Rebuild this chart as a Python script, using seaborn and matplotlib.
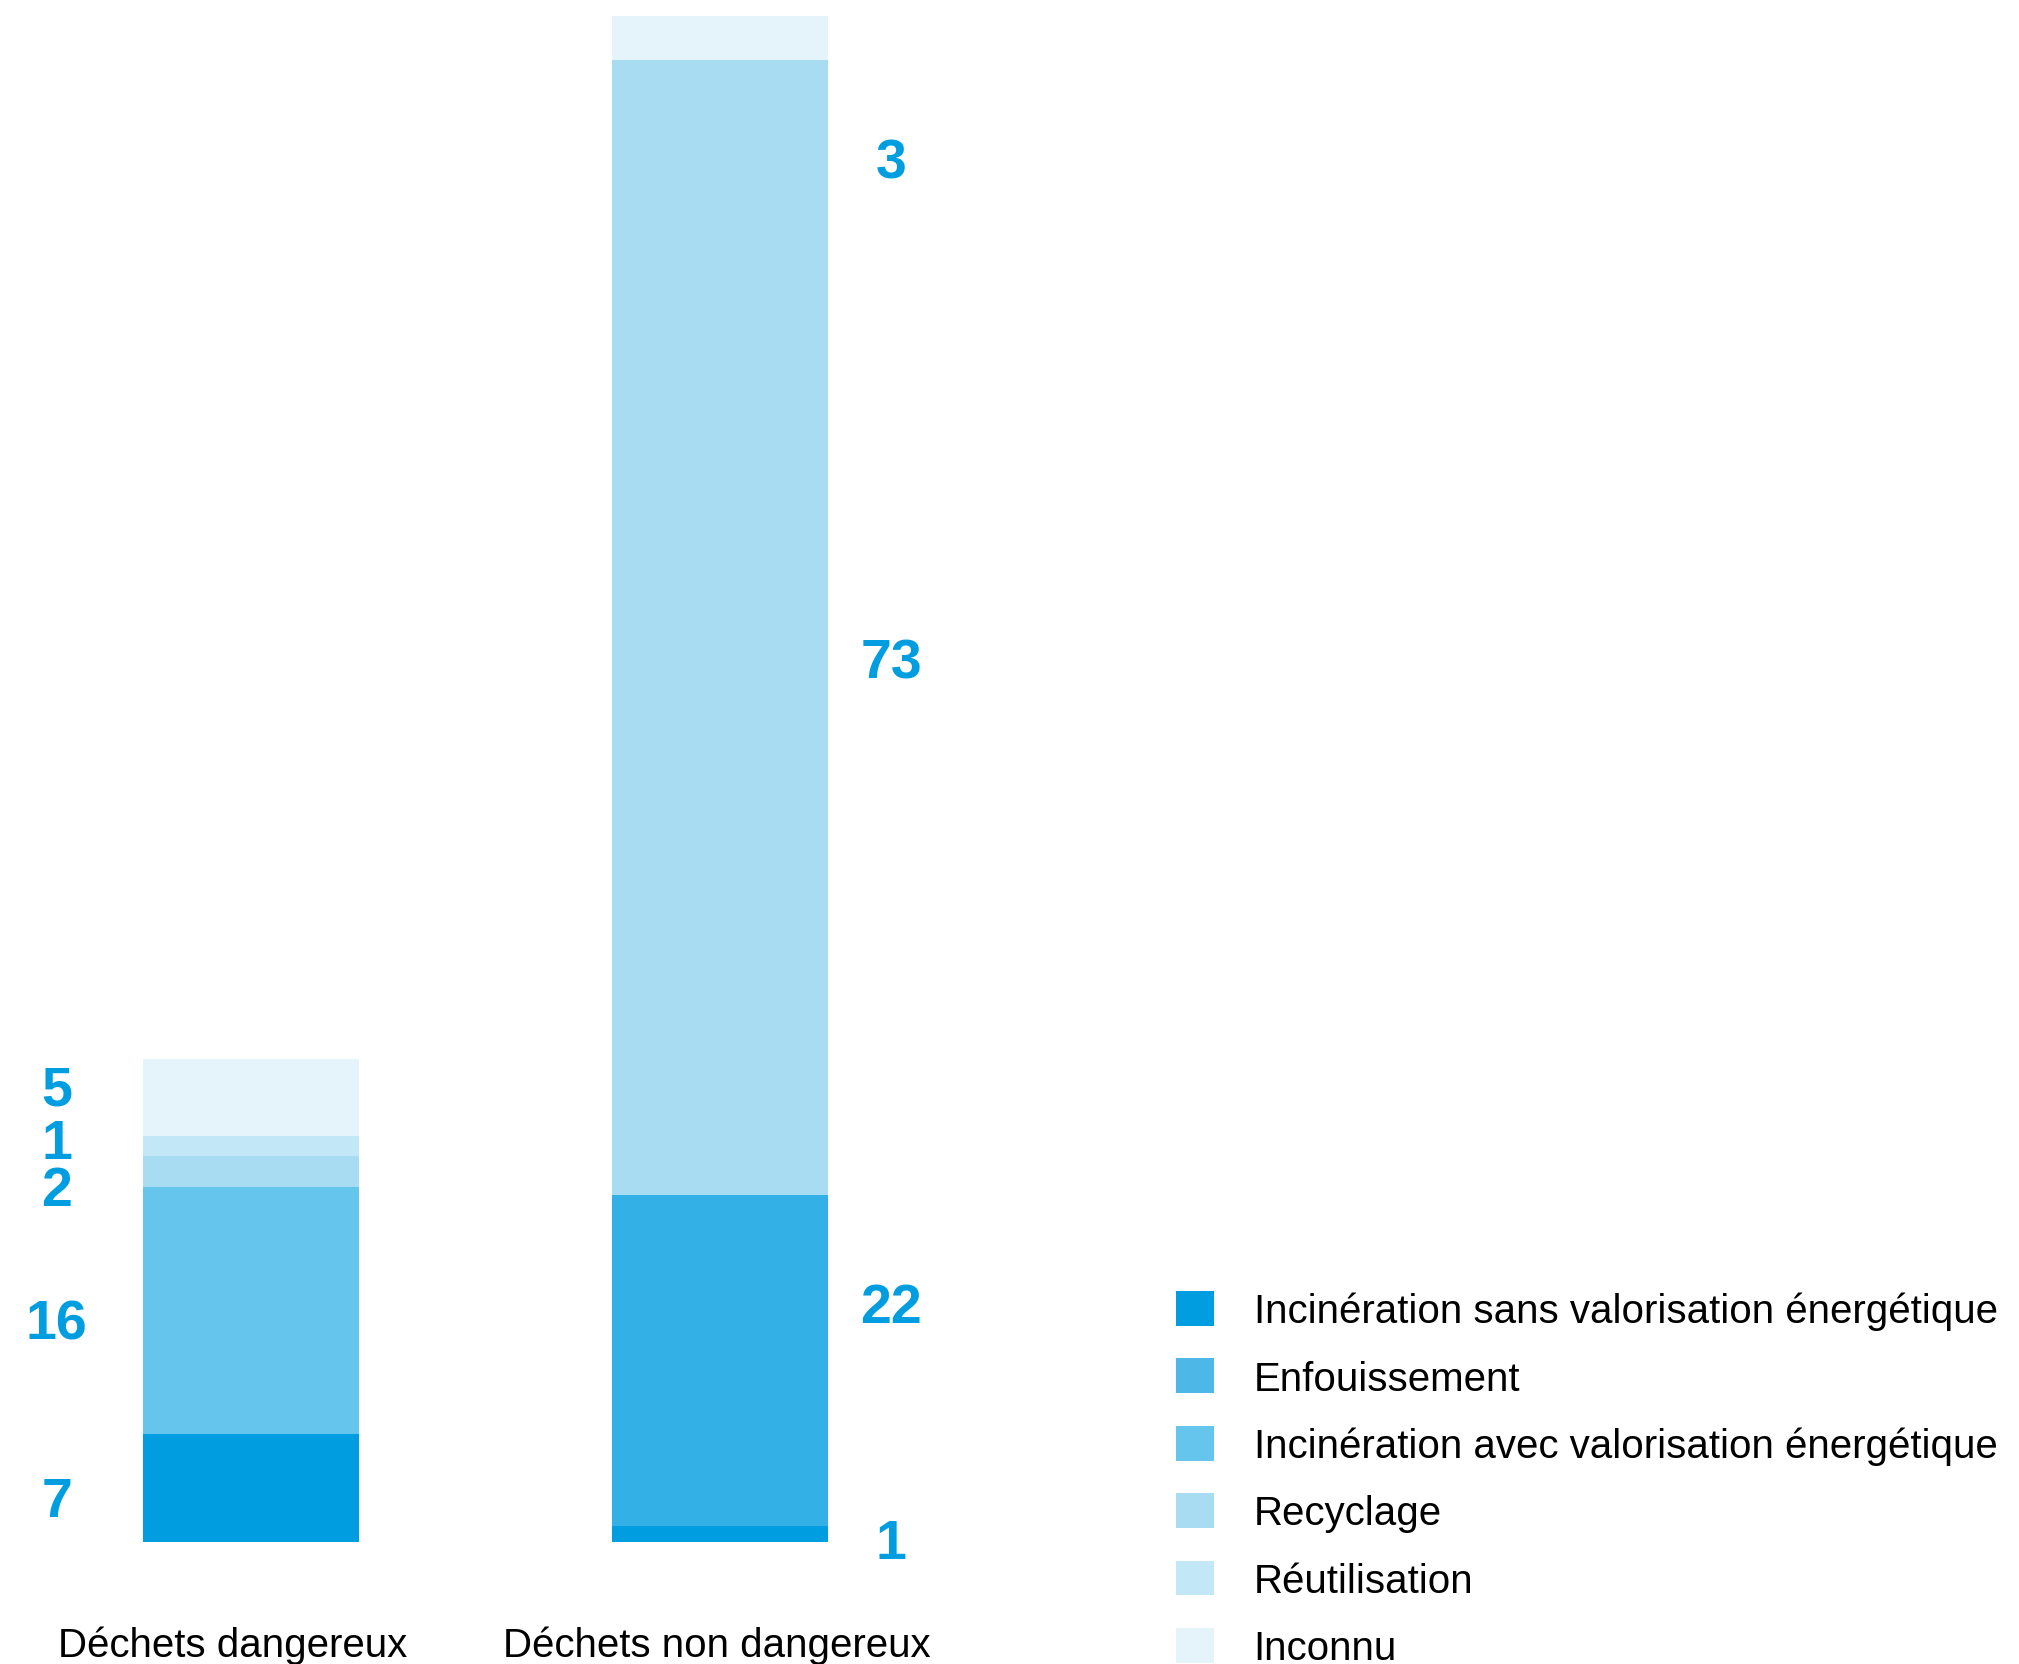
import matplotlib
matplotlib.use("Agg")
import matplotlib.pyplot as plt
import seaborn as sns
import numpy as np
from matplotlib.patches import Patch

# ---- data ----
categories = ["Déchets dangereux", "Déchets non dangereux"]
series_names = [
    "Incinération sans valorisation énergétique",
    "Enfouissement",
    "Incinération avec valorisation énergétique",
    "Recyclage",
    "Réutilisation",
    "Inconnu",
]
incineration_sans = [7.0, 1.0]
enfouissement = [0.0, 21.5]
incineration_avec = [16.0, 0.0]
recyclage = [2.0, 73.6]
reutilisation = [1.3, 0.0]
inconnu = [5.0, 2.8]
series_values = [incineration_sans, enfouissement, incineration_avec,
                 recyclage, reutilisation, inconnu]
colors = ["#009EE0", "#33B0E5", "#66C5EC", "#A7DCF3", "#C2E7F7", "#E5F4FB"]
legend_colors = ["#009EE0", "#4DB8E8", "#66C5EC", "#A7DCF3", "#C2E7F7", "#E5F4FB"]

# value labels (text, label y position in data units)
labels_dangereux = ["7", "16", "2", "1", "5"]
labels_dangereux_y = [1.65, 13.15, 21.85, 24.85, 28.35]
labels_non = ["1", "22", "73", "3"]
labels_non_y = [-1.05, 14.25, 56.05, 88.45]

# ---- figure ----
sns.set_theme(style="white")
plt.rcParams["font.family"] = ["Liberation Sans", "DejaVu Sans"]
plt.rcParams["text.color"] = "#000000"

W, H = 2019, 1665
fig = plt.figure(figsize=(W / 100, H / 100), dpi=100)

px_per_cat = 469.0
x0_px = 251.0
ax_w_px = 1000.0
bottom_px = 1542.5
unit_px = 15.42
ax_h_px = 1530.0
ax = fig.add_axes([0, (H - bottom_px) / H, ax_w_px / W, ax_h_px / H])

cum = np.zeros(len(categories))
for name, vals, col in zip(series_names, series_values, colors):
    sns.barplot(x=categories, y=vals, bottom=cum.copy(), color=col,
                width=0.46, ax=ax, linewidth=0, edgecolor=col, saturation=1)
    cum += np.array(vals)

ax.set_xlim(-x0_px / px_per_cat, -x0_px / px_per_cat + ax_w_px / px_per_cat)
ax.set_ylim(0, ax_h_px / unit_px)
ax.axis("off")

label_color = "#009EE0"
for t, y in zip(labels_dangereux, labels_dangereux_y):
    ax.text(-0.414, y, t, ha="center", va="baseline", fontsize=40,
            fontweight="bold", color=label_color, clip_on=False)
for t, y in zip(labels_non, labels_non_y):
    ax.text(1.365, y, t, ha="center", va="baseline", fontsize=40,
            fontweight="bold", color=label_color, clip_on=False)

# category labels
cat_label_x_px = [233, 717]
for c, xp in zip(categories, cat_label_x_px):
    fig.text(xp / W, (H - 1657) / H, c, ha="center", va="baseline",
             fontsize=29, color="#000000")

handles = [Patch(facecolor=c, edgecolor="none") for c in legend_colors]
leg = fig.legend(handles, series_names, loc="upper left",
                 bbox_to_anchor=(1176 / W, 1 - 1292 / H), frameon=False,
                 fontsize=29, handlelength=0.95, handleheight=0.95,
                 handletextpad=0.98, labelspacing=0.70, borderpad=0,
                 borderaxespad=0)
for txt in leg.get_texts():
    txt.set_color("#000000")

fig.savefig("out.png", dpi=100, facecolor="white")
